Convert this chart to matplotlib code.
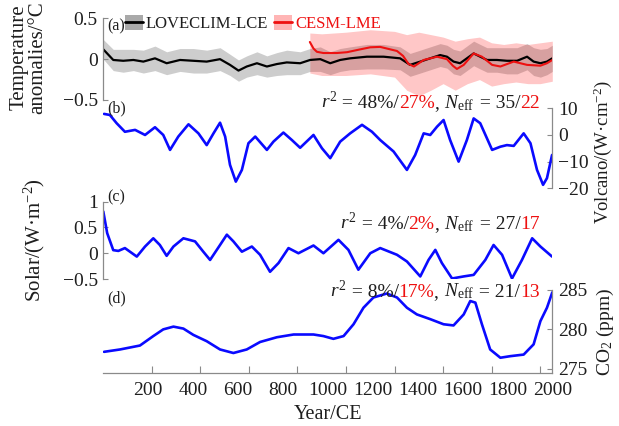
import numpy as np
import matplotlib.pyplot as plt
from matplotlib.patches import Patch
from matplotlib.lines import Line2D
from matplotlib.transforms import offset_copy

plt.rcParams['font.family'] = 'Liberation Serif'
plt.rcParams['mathtext.fontset'] = 'custom'
plt.rcParams['mathtext.rm'] = 'Liberation Serif'
plt.rcParams['mathtext.it'] = 'Liberation Serif:italic'
plt.rcParams['lines.solid_joinstyle'] = 'round'
plt.rcParams['lines.solid_capstyle'] = 'round'

# (a) simulated temperature anomalies
lce_years = [0, 41, 82, 124, 165, 213, 261, 316, 371, 426, 481, 522, 557, 591, 633, 674,
             715, 756, 811, 852, 894, 935, 976, 1017, 1086, 1155, 1223, 1264, 1306, 1347,
             1388, 1416, 1443, 1470, 1498, 1526, 1553, 1581, 1622, 1663, 1705, 1746, 1773,
             1801, 1828, 1850]
lce_temp = [0.12, -0.01, -0.02, -0.01, -0.03, 0.01, -0.05, -0.01, -0.02, -0.03, 0.0, -0.07,
            -0.14, -0.09, -0.05, -0.09, -0.06, -0.04, -0.05, -0.01, 0.0, -0.05, -0.01, 0.01,
            0.03, 0.03, 0.01, -0.07, -0.03, 0.01, 0.05, 0.03, -0.03, -0.05, 0.01, 0.07, 0.03,
            -0.01, -0.01, -0.02, -0.02, 0.03, -0.03, -0.05, -0.03, 0.01]
lce_spread = [0.12, 0.13, 0.14, 0.13, 0.14, 0.15, 0.14, 0.14, 0.15, 0.14, 0.14, 0.13, 0.13,
              0.13, 0.14, 0.13, 0.14, 0.15, 0.14, 0.14, 0.15, 0.14, 0.14, 0.14, 0.15, 0.15,
              0.14, 0.14, 0.14, 0.14, 0.14, 0.14, 0.15, 0.15, 0.15, 0.15, 0.15, 0.15, 0.15,
              0.16, 0.16, 0.16, 0.17, 0.17, 0.16, 0.16]

cesm_years = [851, 866, 880, 907, 962, 1004, 1059, 1100, 1141, 1182, 1210, 1235, 1258, 1280,
              1320, 1375, 1416, 1440, 1457, 1485, 1526, 1560, 1602, 1636, 1691, 1746, 1801,
              1828, 1850]
cesm_temp = [0.21, 0.13, 0.09, 0.075, 0.075, 0.085, 0.12, 0.145, 0.15, 0.12, 0.10, 0.04,
             -0.06, -0.09, -0.01, 0.03, 0.0, -0.08, -0.12, -0.07, 0.07, 0.03, -0.07, -0.09,
             -0.03, -0.07, -0.08, -0.05, -0.01]
cesm_band_years = [851, 900, 1000, 1100, 1200, 1250, 1300, 1350, 1400, 1450, 1500, 1550,
                   1600, 1650, 1700, 1750, 1800, 1850]
cesm_upper = [0.32, 0.31, 0.33, 0.36, 0.34, 0.30, 0.33, 0.30, 0.27, 0.22, 0.25, 0.27, 0.20,
              0.18, 0.20, 0.18, 0.20, 0.22]
cesm_lower = [-0.17, -0.20, -0.20, -0.18, -0.22, -0.38, -0.45, -0.38, -0.30, -0.38, -0.30,
              -0.25, -0.33, -0.30, -0.28, -0.30, -0.30, -0.27]

# (b) volcanic forcing
volc_years = [3, 27, 55, 89, 131, 172, 213, 247, 275, 309, 351, 392, 426, 454, 481, 502, 522,
              546, 571, 598, 626, 674, 701, 742, 777, 811, 866, 901, 935, 976, 1017, 1066,
              1107, 1141, 1196, 1251, 1285, 1320, 1347, 1375, 1402, 1429, 1464, 1498, 1526,
              1553, 1602, 1636, 1663, 1691, 1732, 1760, 1787, 1812, 1828, 1849]
volc = [7.9, 7.5, 4.4, 1.2, 1.9, 0.0, 2.9, 0.0, -5.6, -0.6, 4.0, 0.6, -3.8, 0.6, 4.6, -0.6,
        -11.2, -17.5, -13.1, -3.1, -0.6, -5.6, -2.5, 0.9, -1.9, -4.8, 0.0, -5.0, -8.7, -2.5,
        0.6, 3.8, 1.2, -1.9, -6.2, -13.1, -7.5, 0.6, 0.0, 3.1, 5.6, -1.9, -10.0, -1.9, 6.2,
        4.4, -5.6, -4.4, -3.8, -4.1, 0.6, -3.1, -13.1, -18.7, -16.2, -7.5]

# (c) solar forcing
sol_years = [0, 16, 41, 62, 89, 138, 172, 206, 233, 261, 289, 330, 378, 412, 440, 481, 509,
             536, 571, 612, 646, 687, 722, 763, 804, 866, 907, 969, 1010, 1051, 1100, 1141,
             1210, 1251, 1306, 1340, 1368, 1395, 1437, 1485, 1526, 1574, 1608, 1643, 1684,
             1725, 1767, 1801, 1849]
sol = [0.81, 0.39, 0.06, 0.045, 0.10, -0.065, 0.13, 0.29, 0.16, -0.05, 0.13, 0.29, 0.23,
       0.03, -0.13, 0.16, 0.36, 0.23, 0.03, 0.13, -0.03, -0.36, -0.19, 0.10, 0.0, 0.15, 0.0,
       0.26, 0.065, -0.32, 0.0, 0.10, -0.03, -0.16, -0.45, -0.13, 0.065, -0.19, -0.49, -0.45,
       -0.42, -0.13, 0.16, -0.03, -0.49, -0.13, 0.29, 0.13, -0.065]

# (d) CO2 concentration
co2_years = [3, 69, 151, 206, 247, 289, 330, 371, 426, 481, 536, 591, 646, 715, 784, 866,
             907, 948, 990, 1031, 1072, 1113, 1168, 1210, 1251, 1292, 1347, 1402, 1443, 1485,
             1512, 1533, 1560, 1594, 1636, 1677, 1732, 1773, 1801, 1828, 1850]
co2 = [277.15, 277.45, 277.95, 279.15, 280.0, 280.35, 280.1, 279.3, 278.5, 277.45, 277.0,
       277.45, 278.4, 279.0, 279.35, 279.35, 279.15, 278.8, 279.15, 280.65, 282.75, 284.05,
       284.55, 284.05, 282.75, 281.9, 281.3, 280.65, 280.5, 281.9, 283.6, 283.4, 280.65,
       277.45, 276.4, 276.6, 276.8, 278.1, 281.05, 282.75, 284.7]

stats = {
    'b': ['48%', '27%', '35', '22'],
    'c': ['4%', '2%', '27', '17'],
    'd': ['8%', '17%', '21', '13'],
}

year_ticks = np.arange(200, 1801, 200)
year_labels = np.arange(200, 2001, 200)

BLUE = '#0a0aff'
RED = '#ee1111'
AXC = '#8a8a8a'
TXT = '#1e1e1e'

W, H = 619, 426
fig = plt.figure(figsize=(W / 100, H / 100), dpi=100)
x0, xw = 103.3, 449.0


def panel(top, bottom, side):
    ax = fig.add_axes([x0 / W, 1 - bottom / H, xw / W, (bottom - top) / H])
    ax.patch.set_visible(False)
    for s in ax.spines.values():
        s.set_visible(False)
    ax.spines[side].set_visible(True)
    ax.spines[side].set_color(AXC)
    ax.spines[side].set_linewidth(0.9)
    ax.set_xlim(0, 1850)
    ax.tick_params(direction='in', length=3.5, width=0.8, color=AXC,
                   labelsize=14, labelcolor=TXT, pad=4)
    ax.tick_params(axis='x', bottom=False, labelbottom=False)
    if side == 'right':
        ax.yaxis.tick_right()
        ax.yaxis.set_label_position('right')
    return ax


def stat_text(ax, y, vals):
    # pieces are laid right to left so the block ends at the same x in every panel
    parts = [('$r^2$', TXT), (' = %s/' % vals[0], TXT), (vals[1], RED), (', ', TXT),
             (r'$N_{\rm eff}$', TXT), (' = %s/' % vals[2], TXT), (vals[3], RED)]
    renderer = fig.canvas.get_renderer()
    trans = ax.transAxes
    for s, c in reversed(parts):
        t = ax.text(0.9726, y, s, color=c, ha='right', va='baseline',
                    fontsize=14, transform=trans)
        ex = t.get_window_extent(renderer)
        trans = offset_copy(t.get_transform(), x=-ex.width, units='dots')


# (a) temperature
ax_a = panel(18.3, 100, 'left')
ax_a.fill_between(lce_years, np.array(lce_temp) - lce_spread,
                  np.array(lce_temp) + lce_spread, color='#cdcdcd', lw=0)
ax_a.fill_between(cesm_band_years, cesm_lower, cesm_upper, color='red', alpha=0.22, lw=0)
ax_a.plot(lce_years, lce_temp, color='black', lw=1.6)
ax_a.plot(cesm_years, cesm_temp, color=RED, lw=1.5)
ax_a.set_ylim(-0.5, 0.5)
ax_a.set_yticks([-0.5, 0, 0.5])
ax_a.set_yticklabels(['\u22120.5', '0', '0.5'])
ax_a.set_ylabel('Temperature\nanomalies/\u00b0C', fontsize=15, linespacing=1.0, color=TXT)
ax_a.yaxis.set_label_coords(-0.125, 0.52)

handles = [(Patch(color='#a9a9a9', lw=0), Line2D([], [], color='black', lw=2)),
           (Patch(color='#ffb5b5', lw=0), Line2D([], [], color=RED, lw=2))]
leg = ax_a.legend(handles, ['LOVECLIM-LCE', 'CESM-LME'], loc='upper left',
                  bbox_to_anchor=(125 / W, 1 - 15 / H), bbox_transform=fig.transFigure,
                  ncol=2, frameon=False, fontsize=12, handlelength=1.1, handleheight=1.0,
                  handletextpad=0.15, columnspacing=0.35, borderpad=0, borderaxespad=0)
leg.get_texts()[0].set_color(TXT)
leg.get_texts()[1].set_color(RED)

# (b) volcanic
ax_b = panel(108.3, 188.3, 'right')
ax_b.plot(volc_years, volc, color=BLUE, lw=1.9)
ax_b.set_ylim(-20, 10)
ax_b.set_yticks([-20, -10, 0, 10])
ax_b.set_yticklabels(['\u221220', '\u221210', '0', '10'])
ax_b.set_ylabel('Volcano/(W\u00b7cm$^{-2}$)', fontsize=13.5, color=TXT)
ax_b.yaxis.set_label_coords(1.088, 0.45)
stat_text(ax_b, 1.0, stats['b'])

# (c) solar
ax_c = panel(201.7, 279, 'left')
ax_c.plot(sol_years, sol, color=BLUE, lw=1.9)
ax_c.set_ylim(-0.5, 1)
ax_c.set_yticks([-0.5, 0, 0.5, 1])
ax_c.set_yticklabels(['\u22120.5', '0', '0.5', '1'])
ax_c.set_ylabel('Solar/(W\u00b7m$^{-2}$)', fontsize=15, color=TXT)
ax_c.yaxis.set_label_coords(-0.125, 0.5)
stat_text(ax_c, 0.647, stats['c'])

# (d) CO2
ax_d = panel(290, 372.7, 'right')
ax_d.spines['bottom'].set_visible(True)
ax_d.spines['bottom'].set_color(AXC)
ax_d.spines['bottom'].set_linewidth(0.9)
ax_d.plot(co2_years, co2, color=BLUE, lw=1.9)
ax_d.set_ylim(274.5, 285)
ax_d.set_yticks([275, 280, 285])
ax_d.set_ylabel('CO$_2$ (ppm)', fontsize=14, color=TXT)
ax_d.yaxis.set_label_coords(1.095, 0.5)
ax_d.set_xticks(year_ticks)
ax_d.tick_params(axis='x', bottom=True, length=5, labelbottom=False)
stat_text(ax_d, 0.919, stats['d'])

# year labels run 200-2000 across the full width of the axis
sec = ax_d.secondary_xaxis('bottom', functions=(lambda x: x * 2000 / 1850,
                                                 lambda x: x * 1850 / 2000))
sec.spines['bottom'].set_visible(False)
sec.set_xticks(year_labels)
sec.tick_params(length=0, labelsize=14, labelcolor=TXT, pad=7)
sec.set_xlabel('Year/CE', fontsize=14.5, color=TXT, labelpad=4)

for lab, y in [('(a)', 26), ('(b)', 108), ('(c)', 197), ('(d)', 298)]:
    fig.text(107 / W, 1 - y / H, lab, fontsize=11.5, color=TXT, va='center', ha='left')

fig.savefig('out.png', dpi=100)
